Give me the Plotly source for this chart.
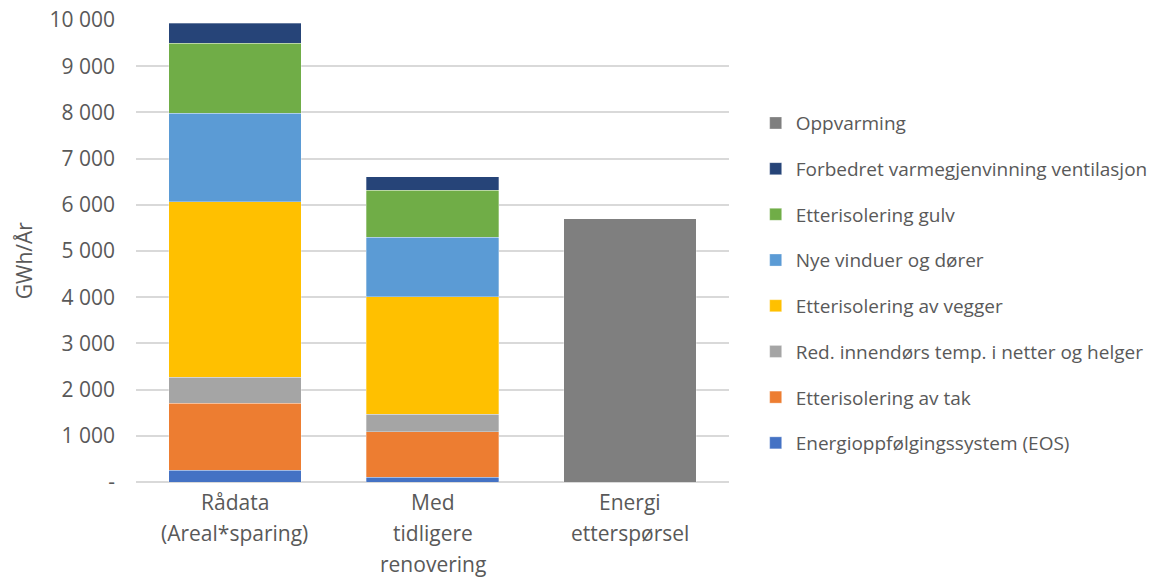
import plotly.graph_objects as go

categories = ["Rådata (Areal*sparing)", "Med tidligere renovering", "Energi etterspørsel"]
cat_lines = [["Rådata", "(Areal*sparing)"], ["Med", "tidligere", "renovering"], ["Energi", "etterspørsel"]]

eos = [250, 100, None]
tak = [1450, 990, None]
red_temp = [570, 380, None]
vegger = [3800, 2540, None]
vinduer = [1910, 1290, None]
gulv = [1520, 1020, None]
ventilasjon = [430, 290, None]
oppvarming = [None, None, 5700]

series = [
    ("Energioppfølgingssystem (EOS)", eos, "#4472C4"),
    ("Etterisolering av tak", tak, "#ED7D31"),
    ("Red. innendørs temp. i netter og helger", red_temp, "#A5A5A5"),
    ("Etterisolering av vegger", vegger, "#FFC000"),
    ("Nye vinduer og dører", vinduer, "#5B9BD5"),
    ("Etterisolering gulv", gulv, "#70AD47"),
    ("Forbedret varmegjenvinning ventilasjon", ventilasjon, "#264478"),
    ("Oppvarming", oppvarming, "#7F7F7F"),
]

tickvals = [0, 1000, 2000, 3000, 4000, 5000, 6000, 7000, 8000, 9000, 10000]
ticktext = ["-", "1 000", "2 000", "3 000", "4 000", "5 000", "6 000", "7 000", "8 000", "9 000", "10 000"]

FONT = "Open Sans"
TXT = "#595959"

fig = go.Figure()
for k, (name, vals, color) in enumerate(series):
    fig.add_trace(go.Bar(
        name=name, x=categories, y=vals, legendgroup=name, legendrank=1000 - k,
        marker=dict(color=color, line=dict(color="rgba(255,255,255,0.6)", width=0.5)),
    ))

for cat, lines in zip(categories, cat_lines):
    for i, ln in enumerate(lines):
        fig.add_annotation(x=cat, y=0, xref="x", yref="paper", text=ln, showarrow=False,
                           yanchor="top", yshift=-4 - 31 * i,
                           font=dict(family=FONT, size=21, color=TXT))

fig.add_annotation(x=0, xref="paper", xshift=-112, xanchor="center",
                   y=0.48, yref="paper", yanchor="middle", text="GWh/År", textangle=-90,
                   showarrow=False, font=dict(family=FONT, size=21, color=TXT))

fig.update_layout(
    width=1170, height=579,
    margin=dict(l=136, r=441, t=20, b=97),
    paper_bgcolor="white", plot_bgcolor="white",
    barmode="stack", bargap=0.33,
    font=dict(family=FONT, color=TXT),
    legend=dict(x=1.045, xanchor="left", y=0.818, yanchor="top",
                traceorder="grouped", tracegroupgap=18,
                font=dict(family=FONT, size=19, color=TXT),
                itemwidth=30),
    xaxis=dict(showticklabels=False, showline=False, showgrid=False),
    yaxis=dict(range=[0, 10000], tickvals=tickvals, ticktext=ticktext, automargin=False,
               showgrid=True, gridcolor="#D9D9D9", gridwidth=1.5,
               zeroline=True, zerolinecolor="#D9D9D9", zerolinewidth=1.5,
               tickfont=dict(family=FONT, size=21, color=TXT),
               ticklabelstandoff=20),
)

fig.write_html("out.html")
